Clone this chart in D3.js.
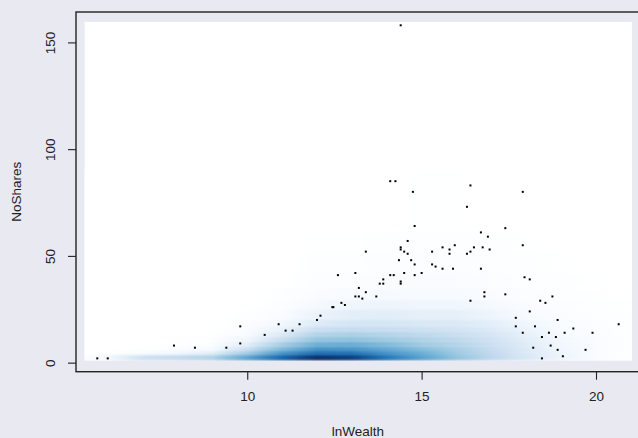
<!DOCTYPE html>
<html>
<head>
<meta charset="utf-8">
<script src="https://cdn.jsdelivr.net/npm/d3@7"></script>
<style>
  body { margin: 0; background: #e9e9f1; }
  svg { display: block; font-family: "Liberation Sans", Arial, sans-serif; }
</style>
</head>
<body>
<div id="chart"></div>
<script>
// outlying points drawn by smoothScatter (lnWealth, NoShares)
const ptX = [5.7, 6.0, 7.9, 8.5, 9.4, 9.8, 9.8, 10.5, 10.9, 11.1, 11.3, 11.5, 12.0, 12.1, 12.44, 12.47,
  12.7, 12.8, 12.6, 13.1, 13.1, 13.2, 13.3, 13.2, 13.4, 13.7, 13.4, 13.8, 13.9, 13.9, 14.1, 14.2,
  14.1, 14.25, 14.4, 14.35, 14.4, 14.4, 14.4, 14.4, 14.5, 14.5, 14.6, 14.6, 14.7, 14.8, 14.8, 14.75,
  14.8, 15.0, 15.3, 15.3, 15.4, 15.6, 15.6, 15.8, 15.8, 15.9, 15.95, 16.3, 16.4, 16.3, 16.4, 16.5,
  16.4, 16.7, 16.7, 16.75, 16.8, 16.8, 16.9, 16.95, 17.4, 17.4, 17.7, 17.7, 17.9, 17.9, 17.95, 18.1,
  17.9, 18.1, 18.2, 18.25, 18.4, 18.45, 18.45, 18.55, 18.65, 18.7, 18.75, 18.85, 18.9, 18.9, 19.05,
  19.1, 19.35, 19.7, 19.9, 20.65];
const ptY = [2, 2, 8, 7, 7, 9, 17, 13, 18, 15, 15, 18, 20, 22, 26, 26,
  28, 27, 41, 42, 31, 31, 30, 35, 33, 31, 52, 37, 37, 39, 41, 41,
  85, 85, 158, 48, 54, 53, 38, 37, 52, 42, 57, 51, 48, 46, 64, 80,
  41, 42, 52, 46, 45, 54, 44, 53, 51, 44, 55, 73, 83, 51, 52, 54,
  29, 61, 44, 54, 33, 31, 59, 53, 63, 32, 21, 17, 55, 80, 40, 39,
  14, 24, 7, 17, 29, 12, 2, 28, 14, 8, 31, 12, 20, 6, 3,
  14, 16, 6, 14, 18];

// density image: horizontal bands (NoShares ranges) and colour level (0 white .. 9 darkest)
// read at each lnWealth station
const stations = [5.33, 6, 7, 8, 9, 10, 11, 12, 13, 14, 15, 16, 17, 18, 19, 20, 21.03];
const bandLo = [0.94, 3.6, 5.5, 7.5, 9.8, 12.2, 14.5, 17, 20, 25, 29.5, 35, 42, 52, 62];
const bandHi = [3.6, 5.5, 7.5, 9.8, 12.2, 14.5, 17, 20, 25, 29.5, 35, 42, 52, 62, 90];
const levels = [
  [0.6, 1.2, 2.6, 3.0, 3.5, 5.3, 7.3, 9.0, 8.5, 6.8, 5.4, 4.2, 3.2, 2.2, 1.4, 0.8, 0.3],
  [0.1, 0.3, 0.8, 1.2, 1.8, 3.8, 5.8, 7.0, 6.9, 5.9, 5.0, 4.0, 3.1, 2.1, 1.35, 0.75, 0.3],
  [0.0, 0.0, 0.3, 0.6, 1.0, 2.7, 4.6, 6.0, 5.9, 5.2, 4.5, 3.8, 3.0, 2.1, 1.3, 0.7, 0.3],
  [0.0, 0.0, 0.1, 0.3, 0.6, 1.8, 3.8, 5.0, 5.1, 4.6, 4.0, 3.5, 2.8, 2.0, 1.25, 0.7, 0.3],
  [0.0, 0.0, 0.0, 0.15, 0.4, 1.3, 2.9, 4.2, 4.3, 4.0, 3.6, 3.2, 2.6, 1.9, 1.2, 0.7, 0.3],
  [0.0, 0.0, 0.0, 0.0, 0.2, 1.0, 2.1, 3.5, 3.7, 3.5, 3.2, 2.9, 2.4, 1.7, 1.1, 0.6, 0.3],
  [0.0, 0.0, 0.0, 0.0, 0.1, 0.7, 1.6, 2.8, 3.0, 2.9, 2.7, 2.5, 2.1, 1.5, 1.0, 0.6, 0.3],
  [0.0, 0.0, 0.0, 0.0, 0.0, 0.4, 1.2, 2.0, 2.4, 2.4, 2.2, 2.1, 1.8, 1.3, 0.85, 0.5, 0.2],
  [0.0, 0.0, 0.0, 0.0, 0.0, 0.2, 0.8, 1.5, 1.8, 1.9, 1.7, 1.7, 1.4, 1.0, 0.6, 0.35, 0.15],
  [0.0, 0.0, 0.0, 0.0, 0.0, 0.0, 0.4, 1.1, 1.3, 1.4, 1.3, 1.3, 1.1, 0.75, 0.45, 0.25, 0.1],
  [0.0, 0.0, 0.0, 0.0, 0.0, 0.0, 0.2, 0.7, 0.9, 1.05, 1.0, 1.0, 0.8, 0.5, 0.3, 0.15, 0.0],
  [0.0, 0.0, 0.0, 0.0, 0.0, 0.0, 0.0, 0.4, 0.55, 0.7, 0.7, 0.7, 0.55, 0.35, 0.2, 0.1, 0.0],
  [0.0, 0.0, 0.0, 0.0, 0.0, 0.0, 0.0, 0.2, 0.3, 0.4, 0.45, 0.45, 0.35, 0.2, 0.1, 0.0, 0.0],
  [0.0, 0.0, 0.0, 0.0, 0.0, 0.0, 0.0, 0.1, 0.1, 0.2, 0.25, 0.25, 0.2, 0.1, 0.0, 0.0, 0.0],
  [0.0, 0.0, 0.0, 0.0, 0.0, 0.0, 0.0, 0.0, 0.0, 0.05, 0.1, 0.1, 0.05, 0.05, 0.0, 0.0, 0.0]
];
const xTicks = [10, 15, 20];
const yTicks = [0, 50, 100, 150];

const blues = ["#FFFFFF", "#F7FBFF", "#DEEBF7", "#C6DBEF", "#9ECAE1", "#6BAED6", "#4292C6", "#2171B5", "#08519C", "#08306B"];
const colour = d3.scaleLinear().domain(d3.range(10)).range(blues).clamp(true);

const W = 638, H = 438;
const margin = { top: 12, left: 76, right: -1.6, bottom: 66.3 };
const width = W - margin.left - margin.right,
  height = H - margin.top - margin.bottom;

const svg = d3.select("#chart").append("svg")
  .attr("width", W).attr("height", H);

const x = d3.scaleLinear().domain([5.09, 21.25]).range([margin.left, margin.left + width]);
const y = d3.scaleLinear().domain([-4.24, 164.24]).range([margin.top + height, margin.top]);

const defs = svg.append("defs");
const x0 = x(stations[0]), x1 = x(stations[stations.length - 1]);
const imgTop = y(159.7), imgBot = y(bandLo[0]);

defs.append("filter").attr("id", "soft")
  .attr("filterUnits", "userSpaceOnUse")
  .attr("x", x0).attr("y", imgTop).attr("width", x1 - x0).attr("height", imgBot - imgTop)
  .append("feGaussianBlur").attr("stdDeviation", "0 1.2").attr("edgeMode", "duplicate");

defs.append("clipPath").attr("id", "img")
  .append("rect").attr("x", x0).attr("y", imgTop).attr("width", x1 - x0).attr("height", imgBot - imgTop);

bandLo.forEach((lo, i) => {
  const g = defs.append("linearGradient").attr("id", "band" + i)
    .attr("gradientUnits", "userSpaceOnUse")
    .attr("x1", x0).attr("x2", x1).attr("y1", 0).attr("y2", 0);
  g.selectAll("stop").data(stations).enter().append("stop")
    .attr("offset", d => (x(d) - x0) / (x1 - x0))
    .attr("stop-color", (d, j) => colour(levels[i][j]));
});

const img = svg.append("g").attr("clip-path", "url(#img)");
img.append("rect").attr("x", x0).attr("y", imgTop).attr("width", x1 - x0).attr("height", imgBot - imgTop)
  .attr("fill", "#fff");
img.append("g").attr("filter", "url(#soft)")
  .selectAll("rect").data(bandLo).enter().append("rect")
  .attr("x", x0).attr("width", x1 - x0)
  .attr("y", (d, i) => y(bandHi[i]))
  .attr("height", (d, i) => y(d) - y(bandHi[i]))
  .attr("fill", (d, i) => `url(#band${i})`);

// points
svg.append("g").selectAll("rect").data(ptX).enter().append("rect")
  .attr("x", d => x(d) - 1).attr("y", (d, i) => y(ptY[i]) - 1)
  .attr("width", 2).attr("height", 2).attr("fill", "#000");

// box
svg.append("rect").attr("x", margin.left).attr("y", margin.top)
  .attr("width", width).attr("height", height)
  .attr("fill", "none").attr("stroke", "#222").attr("stroke-width", 1.4);

// axes
const xAxis = svg.append("g").attr("transform", `translate(0,${margin.top + height})`)
  .call(d3.axisBottom(x).tickValues(xTicks).tickSize(8).tickPadding(12));
const yAxis = svg.append("g").attr("transform", `translate(${margin.left},0)`)
  .call(d3.axisLeft(y).tickValues(yTicks).tickSize(8));
[xAxis, yAxis].forEach(a => {
  a.select(".domain").remove();
  a.selectAll("line").attr("stroke", "#222").attr("stroke-width", 1.1);
  a.selectAll("text").attr("fill", "#222").style("font-size", "13.5px").style("font-family", "Liberation Sans, Arial, sans-serif");
});
yAxis.selectAll("text")
  .attr("x", null).attr("dy", null)
  .attr("text-anchor", "middle")
  .attr("transform", "translate(-21,0) rotate(-90)");

svg.append("text").attr("x", x((5.09 + 21.25) / 2)).attr("y", 436)
  .attr("text-anchor", "middle").attr("fill", "#222").style("font-size", "13.5px")
  .text("lnWealth");
svg.append("text").attr("transform", `translate(21,${y(80)}) rotate(-90)`)
  .attr("text-anchor", "middle").attr("fill", "#222").style("font-size", "13.5px")
  .text("NoShares");
</script>
</body>
</html>
